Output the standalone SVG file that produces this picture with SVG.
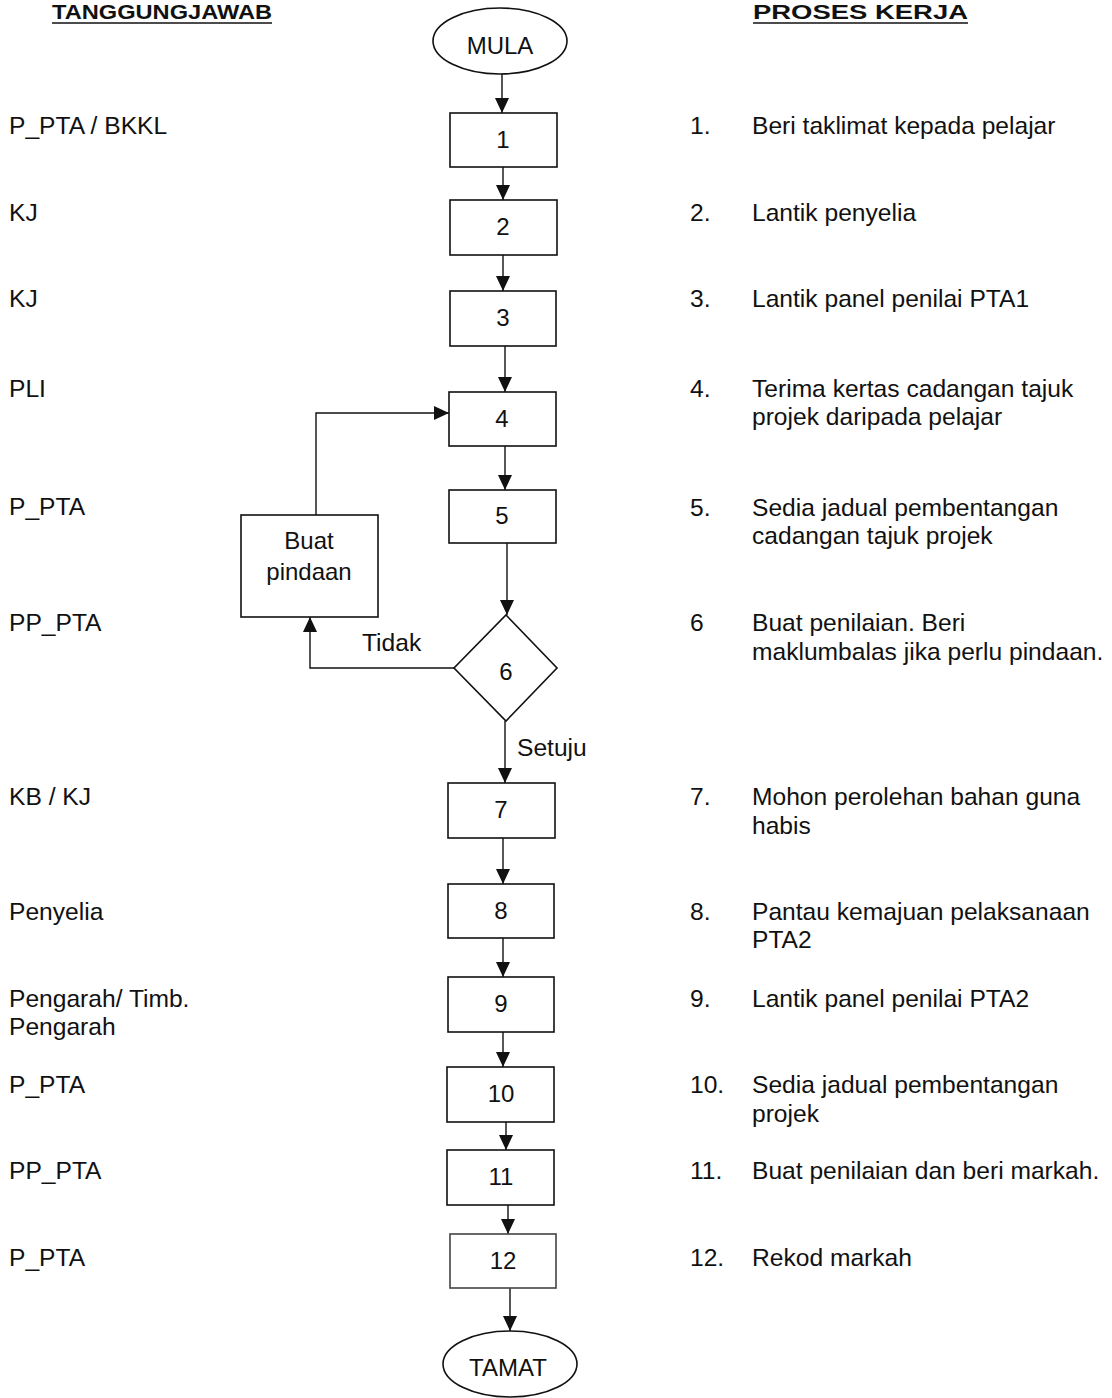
<svg xmlns="http://www.w3.org/2000/svg" width="1112" height="1398" viewBox="0 0 1112 1398">
<style>
text{font-family:"Liberation Sans",Arial,sans-serif;fill:#111;}
.t{font-size:24.6px;}
.c{font-size:24px;text-anchor:middle;}
.h{font-size:21px;font-weight:bold;}
.box{fill:#fff;stroke:#111;stroke-width:1.6;}
.ln{fill:none;stroke:#111;stroke-width:1.4;}
</style>
<defs>
<marker id="ah" viewBox="0 0 10 10" refX="10" refY="5" markerWidth="15" markerHeight="14" markerUnits="userSpaceOnUse" orient="auto" preserveAspectRatio="none">
<path d="M0,0 L10,5 L0,10 Z" fill="#111"/>
</marker>
</defs>
<rect width="1112" height="1398" fill="#fff"/>
<g id="headers">
<text class="h" x="52" y="19" textLength="220" lengthAdjust="spacingAndGlyphs">TANGGUNGJAWAB</text>
<line x1="52" y1="23" x2="272" y2="23" stroke="#111" stroke-width="1.6"/>
<text class="h" x="753" y="19" textLength="215" lengthAdjust="spacingAndGlyphs">PROSES KERJA</text>
<line x1="753" y1="23" x2="968" y2="23" stroke="#111" stroke-width="1.6"/>
</g>
<g id="responsibility">
<text class="t" x="9" y="134">P_PTA / BKKL</text>
<text class="t" x="9" y="221">KJ</text>
<text class="t" x="9" y="307">KJ</text>
<text class="t" x="9" y="397">PLI</text>
<text class="t" x="9" y="515">P_PTA</text>
<text class="t" x="9" y="631">PP_PTA</text>
<text class="t" x="9" y="805">KB / KJ</text>
<text class="t" x="9" y="920">Penyelia</text>
<text class="t" x="9" y="1007">Pengarah/ Timb.</text>
<text class="t" x="9" y="1035">Pengarah</text>
<text class="t" x="9" y="1093">P_PTA</text>
<text class="t" x="9" y="1179">PP_PTA</text>
<text class="t" x="9" y="1266">P_PTA</text>
</g>
<g id="process">
<text class="t" x="690" y="134">1.</text><text class="t" x="752" y="134">Beri taklimat kepada pelajar</text>
<text class="t" x="690" y="221">2.</text><text class="t" x="752" y="221">Lantik penyelia</text>
<text class="t" x="690" y="307">3.</text><text class="t" x="752" y="307">Lantik panel penilai PTA1</text>
<text class="t" x="690" y="397">4.</text><text class="t" x="752" y="397">Terima kertas cadangan tajuk</text>
<text class="t" x="752" y="425">projek daripada pelajar</text>
<text class="t" x="690" y="516">5.</text><text class="t" x="752" y="516">Sedia jadual pembentangan</text>
<text class="t" x="752" y="544">cadangan tajuk projek</text>
<text class="t" x="690" y="631">6</text><text class="t" x="752" y="631">Buat penilaian. Beri</text>
<text class="t" x="752" y="660">maklumbalas jika perlu pindaan.</text>
<text class="t" x="690" y="805">7.</text><text class="t" x="752" y="805">Mohon perolehan bahan guna</text>
<text class="t" x="752" y="834">habis</text>
<text class="t" x="690" y="920">8.</text><text class="t" x="752" y="920">Pantau kemajuan pelaksanaan</text>
<text class="t" x="752" y="948">PTA2</text>
<text class="t" x="690" y="1007">9.</text><text class="t" x="752" y="1007">Lantik panel penilai PTA2</text>
<text class="t" x="690" y="1093">10.</text><text class="t" x="752" y="1093">Sedia jadual pembentangan</text>
<text class="t" x="752" y="1122">projek</text>
<text class="t" x="690" y="1179">11.</text><text class="t" x="752" y="1179">Buat penilaian dan beri markah.</text>
<text class="t" x="690" y="1266">12.</text><text class="t" x="752" y="1266">Rekod markah</text>
</g>
<g id="connectors">
<line class="ln" x1="502" y1="73" x2="502" y2="113" marker-end="url(#ah)"/>
<line class="ln" x1="503" y1="167" x2="503" y2="200" marker-end="url(#ah)"/>
<line class="ln" x1="503" y1="255" x2="503" y2="291" marker-end="url(#ah)"/>
<line class="ln" x1="505" y1="346" x2="505" y2="392" marker-end="url(#ah)"/>
<line class="ln" x1="505" y1="446" x2="505" y2="490" marker-end="url(#ah)"/>
<line class="ln" x1="507" y1="543" x2="507" y2="615" marker-end="url(#ah)"/>
<line class="ln" x1="505" y1="721" x2="505" y2="783" marker-end="url(#ah)"/>
<line class="ln" x1="503" y1="838" x2="503" y2="884" marker-end="url(#ah)"/>
<line class="ln" x1="503" y1="938" x2="503" y2="977" marker-end="url(#ah)"/>
<line class="ln" x1="503" y1="1032" x2="503" y2="1067" marker-end="url(#ah)"/>
<line class="ln" x1="506" y1="1122" x2="506" y2="1150" marker-end="url(#ah)"/>
<line class="ln" x1="508" y1="1205" x2="508" y2="1234" marker-end="url(#ah)"/>
<line class="ln" x1="510" y1="1288" x2="510" y2="1331" marker-end="url(#ah)"/>
<polyline class="ln" points="454,668 310,668 310,617" marker-end="url(#ah)"/>
<polyline class="ln" points="316,515 316,413 449,413" marker-end="url(#ah)"/>
<text class="t" x="362" y="651">Tidak</text>
<text class="t" x="517" y="756">Setuju</text>
</g>
<g id="mula"><ellipse class="box" cx="500" cy="41" rx="67" ry="33"/><text class="c" x="500" y="54">MULA</text></g>
<g id="n1"><rect class="box" x="450" y="113" width="107" height="54"/><text class="c" x="503" y="148">1</text></g>
<g id="n2"><rect class="box" x="450" y="200" width="107" height="55"/><text class="c" x="503" y="235">2</text></g>
<g id="n3"><rect class="box" x="450" y="291" width="106" height="55"/><text class="c" x="503" y="326">3</text></g>
<g id="n4"><rect class="box" x="449" y="392" width="107" height="54"/><text class="c" x="502" y="427">4</text></g>
<g id="n5"><rect class="box" x="449" y="490" width="107" height="53"/><text class="c" x="502" y="524">5</text></g>
<g id="n6"><polygon class="box" points="506,615 557,668 506,721 454,668"/><text class="c" x="506" y="680">6</text></g>
<g id="pindaan"><rect class="box" x="241" y="515" width="137" height="102"/><text class="c" x="309" y="549">Buat</text><text class="c" x="309" y="580">pindaan</text></g>
<g id="n7"><rect class="box" x="448" y="783" width="107" height="55"/><text class="c" x="501" y="818">7</text></g>
<g id="n8"><rect class="box" x="448" y="884" width="106" height="54"/><text class="c" x="501" y="919">8</text></g>
<g id="n9"><rect class="box" x="448" y="977" width="106" height="55"/><text class="c" x="501" y="1012">9</text></g>
<g id="n10"><rect class="box" x="447" y="1067" width="107" height="55"/><text class="c" x="501" y="1102">10</text></g>
<g id="n11"><rect class="box" x="447" y="1150" width="107" height="55"/><text class="c" x="501" y="1185">11</text></g>
<g id="n12"><rect class="box" x="450" y="1234" width="106" height="54" style="stroke:#444"/><text class="c" x="503" y="1269">12</text></g>
<g id="tamat"><ellipse class="box" cx="510" cy="1364" rx="67" ry="33"/><text class="c" x="508" y="1376">TAMAT</text></g>
</svg>
